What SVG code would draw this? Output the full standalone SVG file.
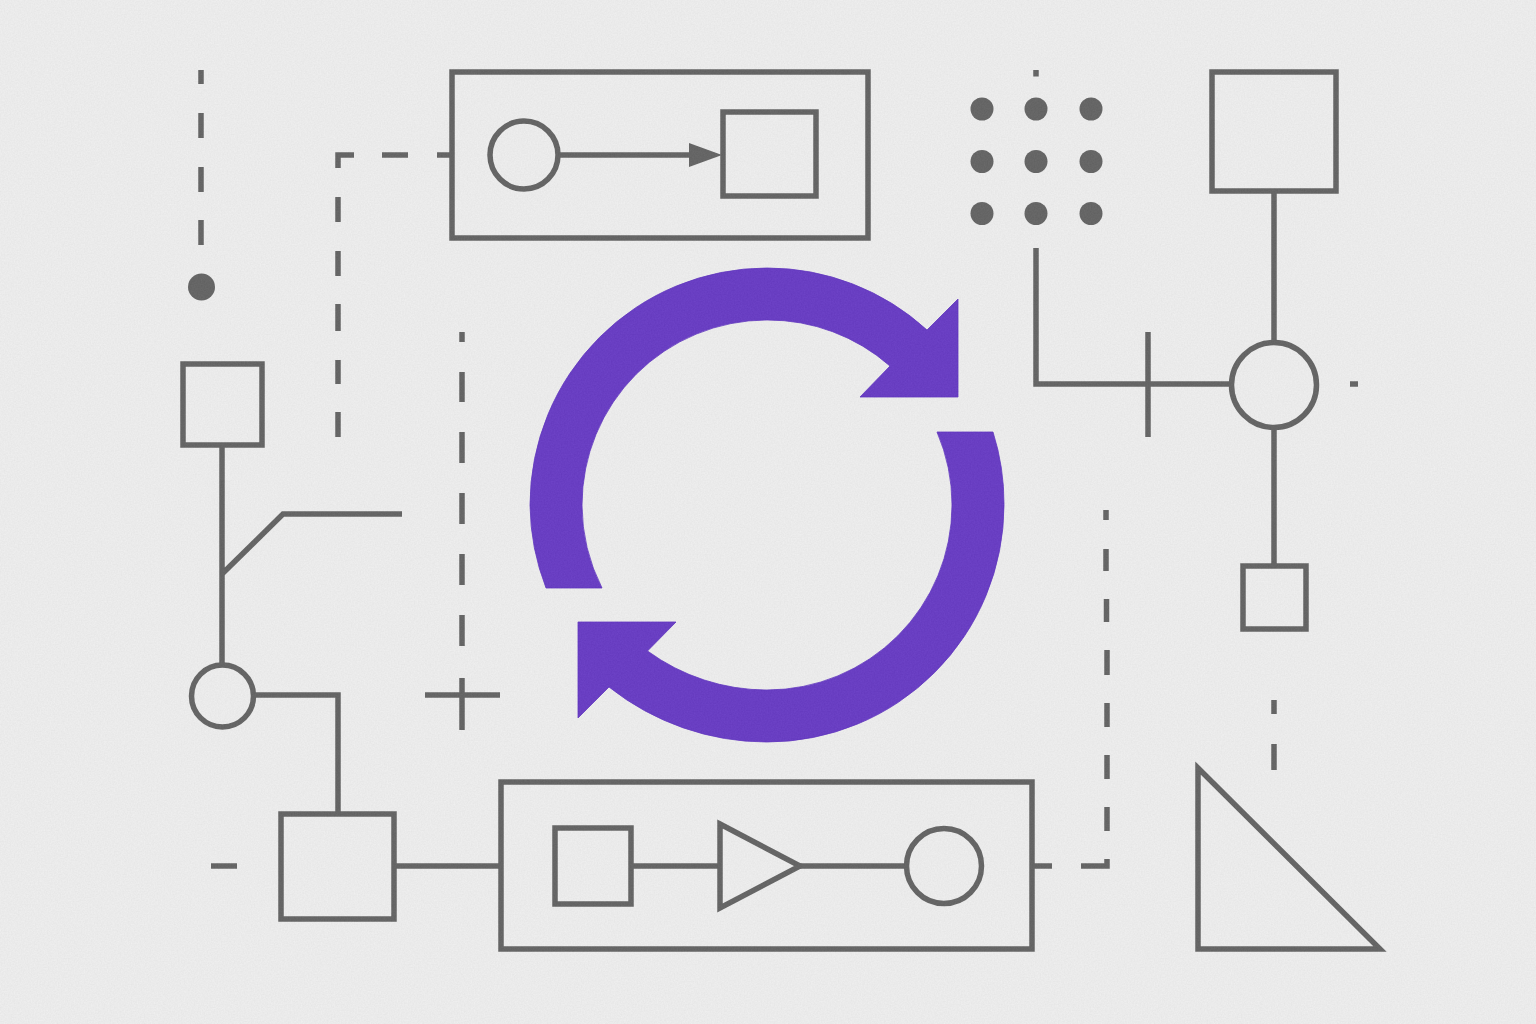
<svg xmlns="http://www.w3.org/2000/svg" width="1536" height="1024" viewBox="0 0 1536 1024">
<style>
.s{fill:none;stroke:#646464;stroke-width:5.5}
.d{fill:#646464}
</style>
<defs>
<filter id="grain" x="0" y="0" width="100%" height="100%" color-interpolation-filters="sRGB">
<feTurbulence type="fractalNoise" baseFrequency="0.7" numOctaves="2" seed="4"/>
<feColorMatrix type="matrix" values="1 0 0 0 0 1 0 0 0 0 1 0 0 0 0 0 0 0 0 0.05"/>
</filter>
</defs>
<rect width="1536" height="1024" fill="#f0f0f0"/>
<g id="connectors">
<path class="s" d="M201 70V84M201 113V138M201 167V192M201 220V245"/>
<path class="s" d="M338 437V412M338 384V360M338 331V304M338 276V251M338 222V197M338 168V155H354M382 155H408M437 155H452"/>
<path class="s" d="M558 155H692"/>
<polygon class="d" points="689,143 722,155 689,167"/>
<path class="s" d="M1036 70V76.500"/>
<path class="s" d="M1036 248V384H1232M1148 332V437"/>
<path class="s" d="M1274 191V343M1274 427V566M1350 384H1358"/>
<path class="s" d="M1274 700V714M1274 744V770"/>
<path class="s" d="M222 445V665M222 574L283 514H402"/>
<path class="s" d="M462 332V342M462 372V402M462 432V463M462 493V524M462 554V585M462 615V646M462 678V730M425 695H500"/>
<path class="s" d="M254 695H338V814"/>
<path class="s" d="M211 866H237M394 866H501"/>
<path class="s" d="M632 866H720M800 866H906M1032 866H1052M1081 866H1107V859M1107 831V807M1107 779V755M1107 727V703M1107 675V650M1106.500 622V599M1106 571V549M1106 520V510"/>
</g>
<g id="dots">
<circle class="d" cx="982" cy="109" r="11.500"/><circle class="d" cx="1036" cy="109" r="11.500"/><circle class="d" cx="1091" cy="109" r="11.500"/>
<circle class="d" cx="982" cy="161.500" r="11.500"/><circle class="d" cx="1036" cy="161.500" r="11.500"/><circle class="d" cx="1091" cy="161.500" r="11.500"/>
<circle class="d" cx="982" cy="213.500" r="11.500"/><circle class="d" cx="1036" cy="213.500" r="11.500"/><circle class="d" cx="1091" cy="213.500" r="11.500"/>
</g>
<g id="dot-start"><circle class="d" cx="201.500" cy="287" r="13.500"/></g>
<g id="box-top"><rect class="s" x="452" y="72" width="416" height="166"/></g>
<g id="circle-top"><circle class="s" cx="524" cy="155" r="34"/></g>
<g id="square-top"><rect class="s" x="723" y="112" width="93" height="84"/></g>
<g id="square-tr"><rect class="s" x="1212" y="72" width="124" height="119"/></g>
<g id="circle-r"><circle class="s" cx="1274" cy="385" r="42.500"/></g>
<g id="square-r"><rect class="s" x="1243" y="566" width="63" height="63"/></g>
<g id="square-l"><rect class="s" x="183" y="364" width="79" height="81"/></g>
<g id="circle-l"><circle class="s" cx="222.500" cy="696" r="31"/></g>
<g id="square-b"><rect class="s" x="281" y="814" width="113" height="105"/></g>
<g id="box-b"><rect class="s" x="501" y="782" width="531" height="167"/></g>
<g id="square-b2"><rect class="s" x="555" y="828" width="76" height="76"/></g>
<g id="triangle-b"><polygon class="s" points="720,824 800,866 720,908"/></g>
<g id="circle-b"><circle class="s" cx="944" cy="866" r="37.500"/></g>
<g id="triangle-r"><polygon class="s" points="1198,768 1380,949 1198,949"/></g>
<g id="cycle" fill="#683bc6" stroke="#5f33c2" stroke-width="0.800">
<path d="M546 588A237 237 0 0 1 530 505A237 237 0 0 1 767 268A237 237 0 0 1 927 330L958 299V397H860L890 366A185 185 0 0 0 767 320A185 185 0 0 0 582 505A185 185 0 0 0 602 588Z"/>
<path d="M993 432A237 237 0 0 1 1004 505A237 237 0 0 1 767 742A254 254 0 0 1 609 687L578 718V622H676L647.500 651A202.600 202.600 0 0 0 767 690A185 185 0 0 0 952 505A185 185 0 0 0 937 432Z"/>
</g>
<rect id="paper-grain" width="1536" height="1024" filter="url(#grain)"/>
</svg>
